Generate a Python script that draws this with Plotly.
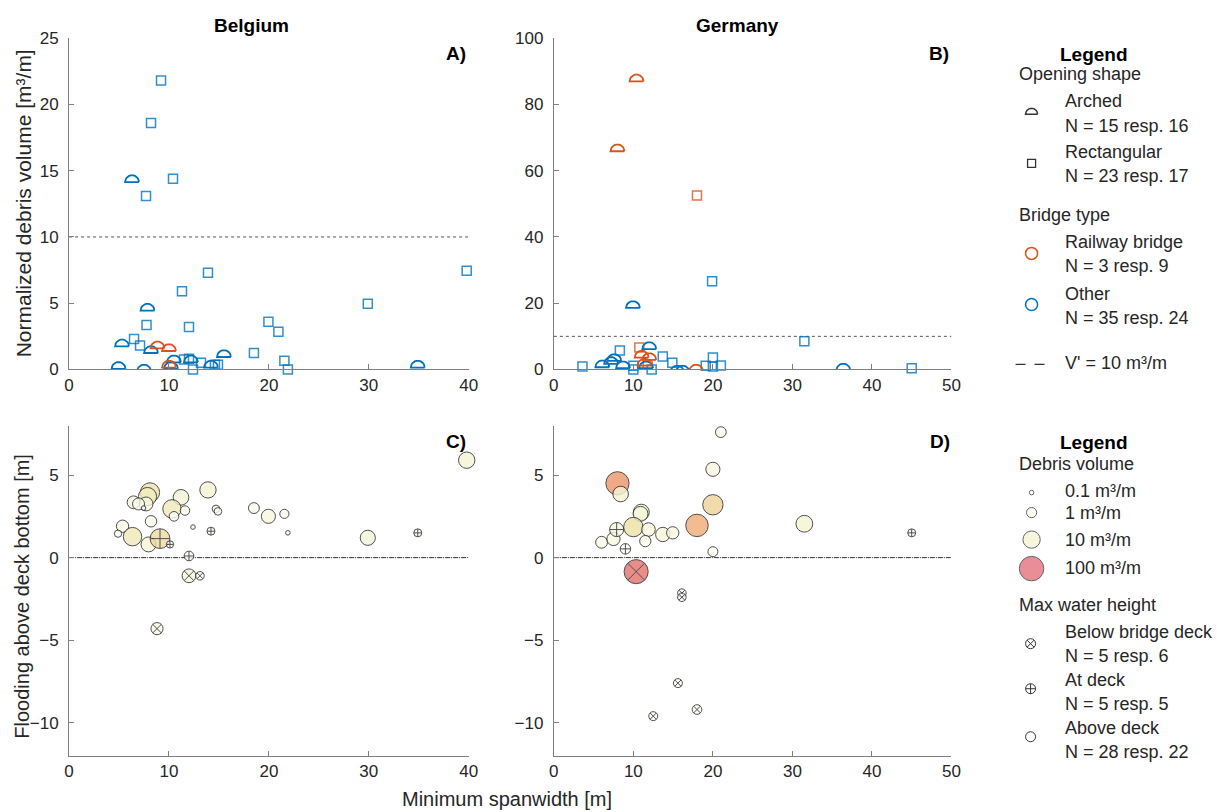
import numpy as np
import plotly.graph_objects as go

# figure size; the page adds the browser's body margin around it and the
# captured page is fitted into 1217 x 812
W, H = 1220, 816
OFF = 8
VIEW_W, VIEW_H = 1217, 812
SY = VIEW_H / (H + 2 * OFF)
# horizontal screen mapping: screen = X0 + SXS * figure_px
X0, SXS = 6.0, 0.987

# ---------------- Belgium: normalized debris volume ----------------
be_arch_other_span = [6.3, 5.3, 7.85, 4.95, 7.5, 8.2, 10.2, 10.5, 12.2, 14.2, 15.5, 34.9]
be_arch_other_vol = [14.4, 2.0, 4.7, 0.3, 0.1, 1.5, 0.3, 0.8, 0.8, 0.4, 1.2, 0.4]
be_arch_rail_span = [8.85, 10.0, 10.0]
be_arch_rail_vol = [1.85, 1.65, 0.4]
be_rect_other_span = [9.2, 8.2, 10.4, 7.7, 39.8, 13.9, 11.3, 29.9, 7.75, 12.0, 19.95, 20.95,
                      6.5, 7.1, 18.5, 11.5, 12.0, 13.2, 12.4, 14.6, 14.9, 21.55, 21.9]
be_rect_other_vol = [21.8, 18.6, 14.4, 13.1, 7.45, 7.3, 5.9, 4.96, 3.35, 3.2, 3.6, 2.85,
                     2.3, 1.8, 1.25, 0.75, 0.8, 0.5, 0.0, 0.35, 0.35, 0.65, 0.0]

# ---------------- Germany: normalized debris volume ----------------
de_arch_other_span = [9.95, 36.4, 6.1, 7.2, 7.6, 8.7, 12.0, 11.6, 15.5, 16.2]
de_arch_other_vol = [19.6, 0.7, 1.7, 2.7, 3.6, 1.4, 7.2, 1.4, 0.1, 0.1]
de_arch_rail_span = [10.4, 8.0, 11.05, 12.0, 17.9, 11.4]
de_arch_rail_vol = [88.0, 66.9, 4.6, 3.9, 0.4, 2.2]
de_rect_other_span = [19.9, 31.5, 45.0, 3.6, 8.3, 10.0, 10.0, 12.3, 13.7, 14.9, 19.1, 20.0, 20.0, 21.0]
de_rect_other_vol = [26.6, 8.5, 0.4, 0.9, 5.7, 1.1, 0.0, 0.0, 3.9, 2.0, 1.1, 3.6, 0.9, 1.2]
de_rect_rail_span = [18.0, 10.75, 11.8]
de_rect_rail_vol = [52.5, 6.6, 1.5]

# ---------------- Belgium: flooding above deck bottom ----------------
be_above_span = [39.8, 13.9, 8.1, 7.85, 7.7, 6.45, 6.95, 7.45, 11.2, 10.3, 10.5, 11.6, 14.7,
                 14.9, 8.2, 12.4, 5.35, 4.9, 6.35, 7.95, 18.5, 19.95, 21.55, 21.9, 29.9]
be_above_flood = [5.9, 4.1, 3.95, 3.7, 3.25, 3.35, 3.25, 3.0, 3.65, 2.95, 2.5, 2.85, 2.95,
                  2.8, 2.2, 1.85, 1.9, 1.45, 1.27, 0.8, 3.0, 2.5, 2.65, 1.5, 1.2]
be_above_vol = [7.45, 7.3, 18.6, 13.1, 3.35, 2.3, 1.8, 0.1, 5.9, 14.4, 0.8, 0.75, 0.35,
                0.35, 1.5, 0.0, 2.0, 0.3, 14.4, 4.7, 1.25, 3.6, 0.65, 0.0, 4.96]
be_atdeck_span = [9.1, 10.1, 12.0, 14.2, 34.9]
be_atdeck_flood = [1.15, 0.8, 0.1, 1.6, 1.5]
be_atdeck_vol = [21.8, 0.3, 0.8, 0.4, 0.4]
be_below_span = [12.0, 13.1, 8.8]
be_below_flood = [-1.1, -1.1, -4.3]
be_below_vol = [3.2, 0.5, 1.85]

# ---------------- Germany: flooding above deck bottom ----------------
de_above_span = [8.0, 8.4, 20.0, 21.0, 20.0, 11.0, 10.9, 18.0, 10.0, 11.9, 13.7, 14.95,
                 6.0, 7.5, 11.5, 20.0, 31.5]
de_above_flood = [4.5, 3.85, 5.35, 7.6, 3.2, 2.75, 2.65, 1.95, 1.85, 1.7, 1.4, 1.5,
                  0.93, 1.13, 1.0, 0.36, 2.05]
de_above_vol = [66.9, 5.7, 3.6, 1.2, 26.6, 6.6, 4.6, 52.5, 19.6, 3.0, 3.9, 2.0,
                1.7, 2.7, 1.4, 0.9, 8.5]
de_atdeck_span = [7.9, 9.0, 45.0]
de_atdeck_flood = [1.7, 0.53, 1.5]
de_atdeck_vol = [3.6, 1.1, 0.4]
de_below_span = [10.35, 16.1, 16.1, 15.6, 12.5, 18.0]
de_below_flood = [-0.85, -2.15, -2.4, -7.6, -9.6, -9.2]
de_below_vol = [88.0, 0.5, 0.5, 0.6, 0.6, 0.8]

# ---------------- legend values ----------------
legend_vols = [0.1, 1, 10, 100]
legend_vol_labels = ["0.1 m³/m", "1 m³/m", "10 m³/m", "100 m³/m"]

BLUE = "#0072BD"
ORANGE = "#D95319"
FONT = "Liberation Sans, Arial, sans-serif"
TXT = "#262626"
AX = "#808080"

# debris colour map on log10 volume
VOL_SCALE = [[0.0, "#ffffff"], [0.333, "#fdfdf2"], [0.667, "#f3f3cf"], [0.767, "#ede0a6"],
             [0.9, "#efb07a"], [0.94, "#eb9868"], [1.0, "#e05f6c"]]


def logv(v):
    return np.log10(np.clip(np.asarray(v, dtype=float), 0.05, None))


def vsize(v):
    return np.interp(logv(v), [-1, 0, 1, 2], [4.6, 10.2, 17.3, 24.5])


# axes placement, in screen pixels
AX_L = (70, 469)
AX_R = (554, 951)
TOP_Y = (37, 368)
BOT_Y = (424, 754)


def fx(p):
    return (p - X0) / SXS


def fy(p):
    return p / SY - OFF


def xdom(px):
    return [fx(px[0]) / W, fx(px[1]) / W]


def ydom(py):
    return [1 - fy(py[1]) / H, 1 - fy(py[0]) / H]


def arch_xy(xs, ys, sx, sy, r=7.0):
    """Outline of a half-disc marker around each (x, y); r in pixels, sx/sy in pixels per unit."""
    t = np.linspace(0, np.pi, 15)
    dx = np.concatenate([r * np.cos(t), [r]])
    dy = np.concatenate([-r / 2 + r * np.sin(t), [-r / 2]])
    X, Y = [], []
    for x, y in zip(xs, ys):
        X += list(x + dx / sx) + [None]
        Y += list(y + dy / sy) + [None]
    return X, Y


fig = go.Figure()

# ---- top panels ----
top_sets = [
    ("x", "y", 40, 25, AX_L,
     [(be_rect_other_span, be_rect_other_vol, BLUE)],
     [(be_arch_other_span, be_arch_other_vol, BLUE), (be_arch_rail_span, be_arch_rail_vol, ORANGE)]),
    ("x2", "y2", 50, 100, AX_R,
     [(de_rect_other_span, de_rect_other_vol, BLUE), (de_rect_rail_span, de_rect_rail_vol, ORANGE)],
     [(de_arch_other_span, de_arch_other_vol, BLUE), (de_arch_rail_span, de_arch_rail_vol, ORANGE)]),
]
for xa, ya, xmax, ymax, axpx, rects, arches in top_sets:
    sx = (fx(axpx[1]) - fx(axpx[0])) / xmax
    sy = (fy(TOP_Y[1]) - fy(TOP_Y[0])) / ymax
    # threshold V' = 10 m3/m
    fig.add_trace(go.Scatter(x=[0, xmax], y=[10, 10], mode="lines", xaxis=xa, yaxis=ya,
                             line=dict(color="#555555", width=1, dash="3px,3px"), showlegend=False))
    for xs, ys, col in rects:
        fig.add_trace(go.Scatter(x=xs, y=ys, mode="markers", xaxis=xa, yaxis=ya, cliponaxis=False,
                                 marker=dict(symbol="square-open", size=9, color=col, opacity=0.8,
                                             line=dict(width=1.5, color=col)),
                                 showlegend=False))
    for xs, ys, col in arches:
        X, Y = arch_xy(xs, ys, sx, sy)
        fig.add_trace(go.Scatter(x=X, y=Y, mode="lines", xaxis=xa, yaxis=ya,
                                 line=dict(color=col, width=1.8), showlegend=False))

# ---- bottom panels ----
bot_sets = [
    ("x3", "y3", 40,
     [(be_above_span, be_above_flood, be_above_vol, "circle"),
      (be_atdeck_span, be_atdeck_flood, be_atdeck_vol, "circle-cross"),
      (be_below_span, be_below_flood, be_below_vol, "circle-x")]),
    ("x4", "y4", 50,
     [(de_above_span, de_above_flood, de_above_vol, "circle"),
      (de_atdeck_span, de_atdeck_flood, de_atdeck_vol, "circle-cross"),
      (de_below_span, de_below_flood, de_below_vol, "circle-x")]),
]
for xa, ya, xmax, groups in bot_sets:
    fig.add_trace(go.Scatter(x=[0, xmax], y=[0, 0], mode="lines", xaxis=xa, yaxis=ya,
                             line=dict(color="#333333", width=1, dash="5px,1px,1px,1px"),
                             showlegend=False))
    for xs, ys, vs, sym in groups:
        fig.add_trace(go.Scatter(
            x=xs, y=ys, mode="markers", xaxis=xa, yaxis=ya, cliponaxis=False,
            marker=dict(symbol=sym, size=vsize(vs), color=logv(vs), colorscale=VOL_SCALE,
                        cmin=-1, cmax=2, opacity=0.8, line=dict(width=1, color="#262626")),
            showlegend=False))

# ---- legend keys (overlay axes in screen pixels) ----
LX = 1031
lx5 = dict(xaxis="x5", yaxis="y5", showlegend=False, cliponaxis=False)
ax_, ay_ = arch_xy([LX], [110], 1, 1, r=6.0)
fig.add_trace(go.Scatter(x=ax_, y=[None if v is None else 220 - v for v in ay_], mode="lines",
                         xaxis="x5", yaxis="y5", showlegend=False,
                         line=dict(color="#333333", width=1.5)))
fig.add_trace(go.Scatter(x=[LX], y=[162], mode="markers", **lx5,
                         marker=dict(symbol="square-open", size=8, color="#333333", line=dict(width=1.3))))
fig.add_trace(go.Scatter(x=[LX, LX], y=[252, 303], mode="markers", **lx5,
                         marker=dict(symbol="circle-open", size=12, color=[ORANGE, BLUE], line=dict(width=1.5))))
fig.add_trace(go.Scatter(x=[1015, 1044], y=[363, 363], mode="lines", xaxis="x5", yaxis="y5",
                         showlegend=False, line=dict(color="#333333", width=1.2, dash="10px,9px")))
fig.add_trace(go.Scatter(x=[LX] * 4, y=[491, 511, 538, 567], mode="markers", **lx5,
                         marker=dict(symbol="circle", size=vsize(legend_vols), color=logv(legend_vols),
                                     colorscale=VOL_SCALE, cmin=-1, cmax=2,
                                     line=dict(width=1, color="#262626"))))
fig.add_trace(go.Scatter(x=[LX - 1] * 3, y=[642, 687, 735], mode="markers", **lx5,
                         marker=dict(symbol=["circle-x-open", "circle-cross-open", "circle-open"],
                                     size=10, color="#333333", line=dict(width=1))))

ann = []


def txt(x, y, s, size=18, bold=False, xanchor="left", angle=0):
    ann.append(dict(x=x, y=y, xref="x5", yref="y5", textangle=angle,
                    text=f"<b>{s}</b>" if bold else s, showarrow=False, xanchor=xanchor,
                    yanchor="middle", font=dict(family=FONT, size=size, color="#000000" if bold else TXT)))


# legend 1
txt(1093, 53, "Legend", 19, True, "center")
txt(1016, 73, "Opening shape")
txt(1062, 100, "Arched")
txt(1062, 125, "N = 15 resp. 16")
txt(1062, 151, "Rectangular")
txt(1062, 175, "N = 23 resp. 17")
txt(1016, 214, "Bridge type")
txt(1062, 241, "Railway bridge")
txt(1062, 265, "N = 3 resp. 9")
txt(1062, 293, "Other")
txt(1062, 317, "N = 35 resp. 24")
txt(1062, 362, "V' = 10 m³/m")
# legend 2
txt(1093, 441, "Legend", 19, True, "center")
txt(1016, 462, "Debris volume")
for yy, lab in zip([489, 511, 538, 566], legend_vol_labels):
    txt(1062, yy, lab)
txt(1016, 603, "Max water height")
txt(1062, 630, "Below bridge deck")
txt(1062, 654, "N = 5 resp. 6")
txt(1062, 678, "At deck")
txt(1062, 702, "N = 5 resp. 5")
txt(1062, 726, "Above deck")
txt(1062, 750, "N = 28 resp. 22")

# titles, panel letters, axis titles
txt(252, 24, "Belgium", 19, True, "center")
txt(737, 24, "Germany", 19, True, "center")
for x, y, s in [(456, 52, "A)"), (939, 52, "B)"), (456, 440, "C)"), (940, 440, "D)")]:
    txt(x, y, s, 19, True, "center")
txt(507, 797, "Minimum spanwidth [m]", 20, False, "center")
txt(24, 202, "Normalized debris volume [m³/m]", 21, False, "center", -90)
txt(23, 595, "Flooding above deck bottom [m]", 20, False, "center", -90)

axis_style = dict(showline=True, linecolor=AX, linewidth=1, ticks="inside", ticklen=5,
                  tickcolor=AX, showgrid=False, zeroline=False, fixedrange=True,
                  tickfont=dict(family=FONT, size=17, color=TXT))

fig.update_layout(
    width=W, height=H, margin=dict(l=0, r=0, t=0, b=0),
    paper_bgcolor="white", plot_bgcolor="rgba(0,0,0,0)",
    showlegend=False, annotations=ann,
    xaxis=dict(domain=xdom(AX_L), range=[0, 40], tickvals=[0, 10, 20, 30, 40], anchor="y", **axis_style),
    yaxis=dict(domain=ydom(TOP_Y), range=[0, 25], tickvals=[0, 5, 10, 15, 20, 25], anchor="x",
               ticklabelstandoff=6, **axis_style),
    xaxis2=dict(domain=xdom(AX_R), range=[0, 50], tickvals=[0, 10, 20, 30, 40, 50], anchor="y2", **axis_style),
    yaxis2=dict(domain=ydom(TOP_Y), range=[0, 100], tickvals=[0, 20, 40, 60, 80, 100], anchor="x2",
                ticklabelstandoff=6, **axis_style),
    xaxis3=dict(domain=xdom(AX_L), range=[0, 40], tickvals=[0, 10, 20, 30, 40], anchor="y3", **axis_style),
    yaxis3=dict(domain=ydom(BOT_Y), range=[-12, 8], tickvals=[-10, -5, 0, 5], anchor="x3",
                ticklabelstandoff=6, **axis_style),
    xaxis4=dict(domain=xdom(AX_R), range=[0, 50], tickvals=[0, 10, 20, 30, 40, 50], anchor="y4", **axis_style),
    yaxis4=dict(domain=ydom(BOT_Y), range=[-12, 8], tickvals=[-10, -5, 0, 5], anchor="x4",
                ticklabelstandoff=6, **axis_style),
    # overlay axes in screen pixels for legend keys and free text
    xaxis5=dict(domain=[0, 1], range=[X0, X0 + SXS * W], visible=False, anchor="y5", fixedrange=True),
    yaxis5=dict(domain=[0, 1], range=[(H + OFF) * SY, OFF * SY], visible=False, anchor="x5", fixedrange=True),
)

fig.write_html("out.html")
